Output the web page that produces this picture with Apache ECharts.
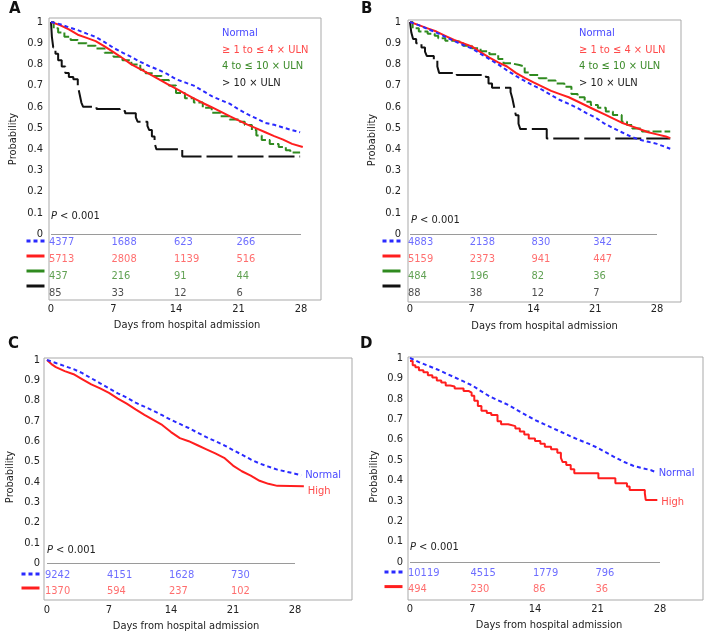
<!DOCTYPE html>
<html>
<head>
<meta charset="utf-8">
<script src="https://cdn.jsdelivr.net/npm/echarts@6/dist/echarts.min.js"></script>
<style>
  html, body { margin: 0; padding: 0; background: #fff; }
  #chart { width: 706px; height: 638px; }
</style>
</head>
<body>
<div id="chart"></div>
<script>
const FONT = '"DejaVu Sans Condensed", "DejaVu Sans", sans-serif'

// axis ticks and table columns
const xTicks = [0, 7, 14, 21, 28]
const yTicks = [0, 0.1, 0.2, 0.3, 0.4, 0.5, 0.6, 0.7, 0.8, 0.9, 1]
const riskDays = [0, 7, 14, 21]

const groups4 = ['Normal', '≥ 1 to ≤ 4 × ULN', '4 to ≤ 10 × ULN', '> 10 × ULN']
const groups2 = ['Normal', 'High']

// numbers at risk
const aRiskNormal = [4377, 1688, 623, 266]
const aRiskLow = [5713, 2808, 1139, 516]
const aRiskMid = [437, 216, 91, 44]
const aRiskHigh = [85, 33, 12, 6]
const bRiskNormal = [4883, 2138, 830, 342]
const bRiskLow = [5159, 2373, 941, 447]
const bRiskMid = [484, 196, 82, 36]
const bRiskHigh = [88, 38, 12, 7]
const cRiskNormal = [9242, 4151, 1628, 730]
const cRiskHigh = [1370, 594, 237, 102]
const dRiskNormal = [10119, 4515, 1779, 796]
const dRiskHigh = [494, 230, 86, 36]

// survival curves [day, probability]
const aNormal = [[0,1],[1,0.99],[2,0.975],[3,0.962],[4,0.945],[5,0.93],[6,0.905],[7,0.878],[8,0.856],[9,0.835],[10,0.812],[11,0.792],[12,0.775],[13,0.755],[14,0.73],[15,0.715],[16,0.7],[17,0.675],[18,0.65],[19,0.632],[20,0.615],[21,0.588],[22,0.565],[23,0.545],[24,0.524],[25,0.515],[26,0.502],[27,0.49],[27.9,0.48]]
const aLow = [[0,1],[1,0.985],[2,0.965],[3,0.94],[4,0.925],[5,0.91],[6,0.885],[7,0.858],[8,0.83],[9,0.8],[10,0.778],[11,0.755],[12,0.732],[13,0.708],[14,0.686],[15,0.662],[16,0.64],[17,0.618],[18,0.598],[19,0.577],[20,0.556],[21,0.536],[22,0.516],[23,0.498],[24,0.48],[25,0.462],[26,0.445],[27,0.425],[28.2,0.41]]
const aMid = [[0,1],[0.3,0.97],[0.8,0.95],[1.5,0.93],[2.2,0.915],[3,0.9],[4,0.888],[5,0.875],[6,0.855],[7,0.836],[8,0.82],[9,0.8],[10,0.775],[10.6,0.758],[11.5,0.745],[12.4,0.726],[13.2,0.7],[14,0.665],[15,0.64],[16,0.62],[17,0.595],[18,0.572],[19,0.555],[20,0.54],[21,0.53],[21.7,0.514],[22.5,0.49],[23,0.465],[23.6,0.443],[24.5,0.425],[25.5,0.41],[26.3,0.395],[26.8,0.385],[27.9,0.385]]
const aHigh = [[0,1],[0.1,0.93],[0.25,0.88],[0.5,0.85],[0.8,0.82],[1.2,0.79],[1.6,0.76],[2,0.74],[2.5,0.73],[3,0.7],[3.2,0.66],[3.4,0.62],[3.6,0.6],[5.1,0.59],[7.7,0.58],[8.3,0.57],[9.5,0.55],[9.7,0.53],[10.8,0.51],[11,0.49],[11.3,0.46],[11.6,0.43],[11.8,0.4],[14.7,0.365],[27.9,0.365]]

const bNormal = [[0,1],[1,0.985],[2,0.967],[3,0.95],[4,0.93],[5,0.91],[6,0.892],[7,0.875],[8,0.85],[9,0.825],[10,0.8],[11,0.772],[12,0.746],[13,0.722],[14,0.7],[15,0.68],[16,0.655],[17,0.632],[18,0.614],[19,0.594],[20,0.57],[21,0.55],[22,0.522],[23,0.5],[24,0.48],[25,0.46],[26,0.445],[27,0.435],[28,0.425],[29,0.41],[29.5,0.402]]
const bLow = [[0,1],[1,0.985],[2,0.97],[3,0.955],[4,0.935],[5,0.915],[6,0.9],[7,0.885],[8,0.858],[9,0.832],[10,0.81],[11,0.79],[12,0.76],[13,0.736],[14,0.715],[15,0.695],[16,0.675],[17,0.66],[18,0.645],[19,0.625],[20,0.605],[21,0.585],[22,0.565],[23,0.545],[24,0.525],[25,0.51],[26,0.495],[27,0.48],[28,0.47],[29,0.46],[29.5,0.452]]
const bMid = [[0,1],[0.3,0.97],[1,0.955],[2,0.945],[2.8,0.935],[3.2,0.923],[4,0.912],[5,0.905],[6,0.888],[7,0.876],[8,0.862],[9,0.848],[10,0.825],[10.6,0.805],[11.5,0.797],[12.4,0.79],[13,0.762],[13.6,0.75],[14.6,0.735],[15.5,0.724],[16.5,0.71],[17.5,0.695],[18.3,0.66],[19,0.645],[19.8,0.624],[20.5,0.608],[21.3,0.595],[22.2,0.578],[23,0.561],[24,0.53],[24.6,0.514],[25.2,0.498],[26.3,0.483],[29.5,0.483]]
const bHigh = [[0,1],[0.15,0.95],[0.35,0.92],[0.7,0.9],[1.3,0.88],[1.7,0.86],[1.9,0.84],[2.7,0.82],[3.1,0.79],[3.3,0.76],[5.3,0.75],[8.6,0.74],[8.9,0.71],[9.3,0.69],[11.4,0.67],[11.6,0.64],[11.8,0.6],[12,0.56],[12.3,0.52],[12.5,0.495],[15.5,0.45],[29.5,0.45]]

const cNormal = [[0,1],[1,0.985],[2,0.97],[3,0.955],[4,0.935],[5,0.91],[6,0.885],[7,0.86],[8,0.836],[9,0.815],[10,0.79],[11,0.77],[12,0.75],[13,0.728],[14,0.705],[15,0.685],[16,0.665],[17,0.642],[18,0.62],[19,0.6],[20,0.58],[21,0.556],[22,0.534],[23,0.51],[24,0.49],[25,0.475],[26,0.46],[27,0.45],[28,0.44],[28.7,0.432]]
const cHigh = [[0,1],[0.5,0.98],[1,0.965],[2,0.945],[3,0.93],[4,0.905],[5,0.88],[6,0.86],[7,0.838],[8,0.81],[9,0.785],[10,0.757],[11,0.73],[12,0.705],[13,0.68],[14,0.645],[15,0.615],[16,0.6],[17,0.58],[18,0.56],[19,0.54],[20,0.518],[21,0.48],[22,0.452],[23,0.43],[24,0.405],[25,0.39],[26,0.38],[29,0.378]]

const dNormal = [[0,1],[1,0.98],[2,0.962],[3,0.945],[4,0.925],[5,0.905],[6,0.885],[7,0.865],[8,0.836],[9,0.81],[10,0.79],[11,0.77],[12,0.745],[13,0.72],[14,0.696],[15,0.676],[16,0.656],[17,0.636],[18,0.616],[19,0.597],[20,0.58],[21,0.56],[22,0.536],[23,0.512],[24,0.49],[25,0.472],[26,0.46],[27,0.45],[27.4,0.443]]
const dHigh = [[0,0.985],[0.3,0.965],[0.6,0.955],[1,0.94],[1.5,0.93],[2,0.915],[2.5,0.905],[3,0.89],[3.5,0.88],[4,0.865],[4.5,0.86],[5,0.85],[6,0.838],[6.6,0.83],[6.9,0.815],[7.2,0.79],[7.6,0.765],[8,0.742],[8.6,0.73],[9.1,0.72],[9.8,0.69],[10.2,0.675],[11,0.666],[11.8,0.655],[12.3,0.64],[12.8,0.625],[13.3,0.605],[14,0.593],[14.6,0.58],[15.1,0.565],[15.8,0.553],[16.5,0.535],[16.9,0.51],[17.1,0.49],[17.5,0.475],[18,0.455],[18.4,0.435],[21.1,0.41],[23,0.386],[24.3,0.37],[24.6,0.353],[26.3,0.337],[26.4,0.304],[27.7,0.304]]

// line looks, one per group position
const lineLooks = {
  normal: { color: '#2a2aff', text: '#4848ff', type: [4, 3], key: [4, 3] },
  low: { color: '#ff1e1e', text: '#ff4a4a', type: 'solid', key: 'solid' },
  mid: { color: '#2f8a1f', text: '#3a8a28', type: [9, 3], key: 'solid' },
  high: { color: '#111111', text: '#222222', type: [26, 5], key: 'solid' }
}

// panel layout in pixels (box edges, where day 0 / day 28 and p=1 / p=0 fall)
const panels = [
  {
    letter: 'A', box: { l: 49, t: 18, r: 321, b: 300 }, x0: 51, x28: 301, y1: 22, y0: 234,
    table: { top: 233.5, h: 68 }, groups: groups4, looks: ['normal', 'low', 'mid', 'high'],
    curves: [aNormal, aLow, aMid, aHigh], steps: [false, false, 'end', 'end'],
    risk: [aRiskNormal, aRiskLow, aRiskMid, aRiskHigh],
    xLabelMargin: 4, yLabelMargin: 6, xNameGap: 20, yNameGap: 30, xNamePad: [0, 0, 0, 4], yNamePad: 40,
    textLegend: { left: 217, top: 26.5 }, keyLegend: { left: 25, top: 237, gap: 7 },
    pText: { left: 51, top: 211 }, letterPos: { left: 9, top: 2 }
  },
  {
    letter: 'B', box: { l: 408, t: 20, r: 681, b: 302 }, x0: 410, x28: 657, y1: 22, y0: 234,
    table: { top: 233.8, h: 68 }, groups: groups4, looks: ['normal', 'low', 'mid', 'high'],
    curves: [bNormal, bLow, bMid, bHigh], steps: [false, false, 'end', 'end'],
    risk: [bRiskNormal, bRiskLow, bRiskMid, bRiskHigh],
    xLabelMargin: 2, yLabelMargin: 7, xNameGap: 18.5, yNameGap: 30, xNamePad: [0, 0, 0, 0], yNamePad: 42,
    textLegend: { left: 574, top: 26.5 }, keyLegend: { left: 381, top: 237, gap: 7 },
    pText: { left: 411, top: 215 }, letterPos: { left: 361, top: 2 }
  },
  {
    letter: 'C', box: { l: 44, t: 358, r: 352, b: 600 }, x0: 47, x28: 295, y1: 360, y0: 563,
    table: { top: 567, h: 32 }, groups: groups2, looks: ['normal', 'low'],
    curves: [cNormal, cHigh], steps: [false, false],
    risk: [cRiskNormal, cRiskHigh], endOffsets: [[0, 0], [0, 5]],
    xLabelMargin: 5, yLabelMargin: 4, xNameGap: 20.5, yNameGap: 28.5, xNamePad: [0, 24, 0, 0], yNamePad: 4,
    keyLegend: { left: 20, top: 570, gap: 6 },
    pText: { left: 47, top: 545 }, letterPos: { left: 8, top: 337 }
  },
  {
    letter: 'D', box: { l: 408, t: 357, r: 703, b: 600 }, x0: 410, x28: 660, y1: 358, y0: 562,
    table: { top: 564.4, h: 33.2 }, groups: groups2, looks: ['normal', 'low'],
    curves: [dNormal, dHigh], steps: [false, 'end'],
    risk: [dRiskNormal, dRiskHigh], endOffsets: [[0, 1.5], [0, 2]],
    xLabelMargin: 4, yLabelMargin: 5, xNameGap: 19.5, yNameGap: 28.5, xNamePad: [0, 13, 0, 0], yNamePad: 4,
    keyLegend: { left: 383, top: 568, gap: 6.6 },
    pText: { left: 410, top: 541.5 }, letterPos: { left: 360, top: 337 }
  }
]

const option = {
  animation: false,
  backgroundColor: '#fff',
  textStyle: { fontFamily: FONT },
  grid: [], xAxis: [], yAxis: [], series: [], legend: [], title: []
}

panels.forEach((p, i) => {
  const gData = i * 2
  const gTable = i * 2 + 1
  const pxDay = (p.x28 - p.x0) / 28
  const pxUnit = p.y0 - p.y1
  const xMin = (p.box.l - p.x0) / pxDay
  const xMax = (p.box.r - p.x0) / pxDay
  const yMax = (p.y0 - p.box.t) / pxUnit
  const yMin = (p.y0 - p.box.b) / pxUnit

  option.grid.push({
    left: p.box.l, top: p.box.t, width: p.box.r - p.box.l, height: p.box.b - p.box.t,
    show: true, borderColor: '#a9a9a9', borderWidth: 1, containLabel: false, outerBoundsMode: 'none'
  })
  option.grid.push({
    left: p.box.l, top: p.table.top, width: p.box.r - p.box.l, height: p.table.h,
    show: false, containLabel: false, outerBoundsMode: 'none'
  })

  option.xAxis.push({
    type: 'value', gridIndex: gData, min: xMin, max: xMax,
    axisLine: { show: false, onZero: false }, axisTick: { show: false }, splitLine: { show: false },
    axisLabel: { customValues: xTicks, margin: p.xLabelMargin, color: '#222', fontSize: 11, fontFamily: FONT },
    name: 'Days from hospital admission', nameLocation: 'middle', nameGap: p.xNameGap,
    nameTextStyle: { color: '#222', fontSize: 11, fontFamily: FONT, padding: p.xNamePad }
  })
  option.xAxis.push({ type: 'value', gridIndex: gTable, min: xMin, max: xMax, show: false })

  option.yAxis.push({
    type: 'value', gridIndex: gData, min: yMin, max: yMax,
    axisLine: { show: false }, axisTick: { show: false }, splitLine: { show: false },
    axisLabel: {
      customValues: yTicks, margin: p.yLabelMargin, color: '#222', fontSize: 11, fontFamily: FONT,
      formatter: v => String(Math.round(v * 10) / 10)
    },
    name: 'Probability', nameLocation: 'middle', nameGap: p.yNameGap,
    nameTextStyle: { color: '#222', fontSize: 11, fontFamily: FONT, padding: [0, 0, 0, p.yNamePad] }
  })
  option.yAxis.push({ type: 'category', gridIndex: gTable, data: p.groups, inverse: true, show: false })

  p.groups.forEach((name, k) => {
    const look = lineLooks[p.looks[k]]
    const s = {
      type: 'line', name: name, xAxisIndex: gData, yAxisIndex: gData,
      data: p.curves[k], step: p.steps[k], symbol: 'none', showSymbol: false,
      color: look.color,
      lineStyle: { color: look.color, width: 2, type: look.type },
      z: 3 + (p.groups.length - k)
    }
    if (p.endOffsets) {
      s.endLabel = {
        show: true, formatter: '{a}', color: look.text, fontSize: 11, fontFamily: FONT,
        distance: 4, offset: p.endOffsets[k]
      }
    }
    if (k === 0) {
      // the p = 0 base line, from day 0 to day 28
      s.markLine = {
        silent: true, symbol: 'none', label: { show: false },
        lineStyle: { color: '#9a9a9a', width: 1, type: 'solid' },
        data: [[{ coord: [0, 0] }, { coord: [28, 0] }]]
      }
    }
    option.series.push(s)

    option.series.push({
      type: 'scatter', name: p.letter + ' at risk ' + k, xAxisIndex: gTable, yAxisIndex: gTable,
      symbolSize: 0, silent: true,
      data: riskDays.map((d, j) => [d, name, p.risk[k][j]]),
      label: {
        show: true, position: 'right', distance: 0, offset: [-2, 0],
        color: look.text, fontSize: 11, fontFamily: FONT,
        formatter: q => String(q.value[2])
      }
    })
  })

  if (p.textLegend) {
    option.legend.push({
      data: p.groups.map((name, k) => ({ name: name, textStyle: { color: lineLooks[p.looks[k]].text } })),
      orient: 'vertical', left: p.textLegend.left, top: p.textLegend.top, padding: 0,
      icon: 'rect', itemWidth: 0, itemHeight: 0, itemGap: 3.7, selectedMode: false,
      itemStyle: { opacity: 0 },
      textStyle: { fontSize: 11, lineHeight: 13, fontFamily: FONT }
    })
  }
  // line keys next to the numbers at risk
  option.legend.push({
    data: p.groups.map((name, k) => ({ name: name, lineStyle: { type: lineLooks[p.looks[k]].key } })),
    orient: 'vertical', left: p.keyLegend.left, top: p.keyLegend.top, padding: 0,
    itemWidth: 18, itemHeight: 10, itemGap: p.keyLegend.gap, selectedMode: false,
    itemStyle: { opacity: 0 },
    lineStyle: { width: 3 },
    formatter: () => '',
    textStyle: { fontSize: 8, lineHeight: 8 }
  })

  option.title.push({
    text: p.letter, left: p.letterPos.left, top: p.letterPos.top, padding: 0,
    textStyle: { fontSize: 15, fontWeight: 'bold', color: '#111', fontFamily: '"DejaVu Sans", sans-serif' }
  })
  option.title.push({
    text: '{i|P} < 0.001', left: p.pText.left, top: p.pText.top, padding: 0,
    textStyle: {
      fontSize: 11, fontWeight: 'normal', color: '#222', fontFamily: FONT,
      rich: { i: { fontStyle: 'italic', fontSize: 11, color: '#222', fontFamily: FONT } }
    }
  })
})

const chart = echarts.init(document.getElementById('chart'), null, { renderer: 'canvas' })
chart.setOption(option)
</script>
</body>
</html>
